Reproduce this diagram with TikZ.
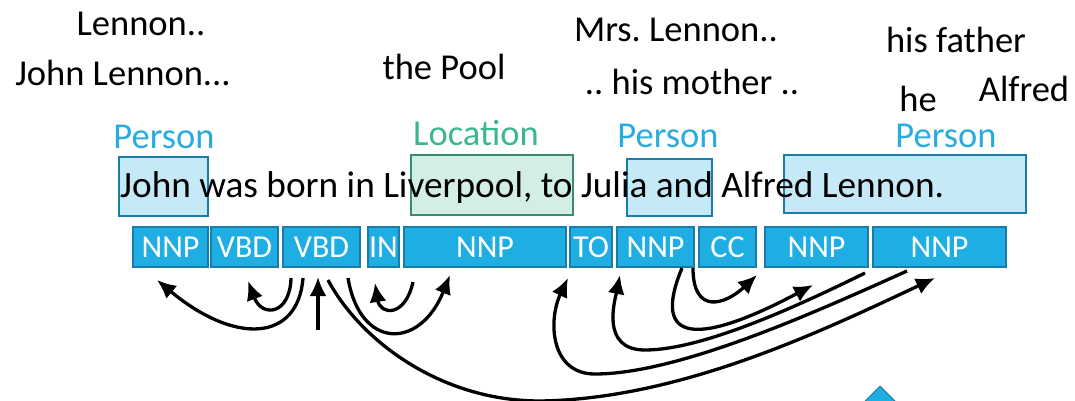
\documentclass[tikz,border=0pt]{standalone}
\usepackage{fontspec}
\setmainfont{Carlito}
\usetikzlibrary{arrows.meta,shapes.geometric}
\definecolor{tagfill}{HTML}{1FAEE3}
\definecolor{tagdraw}{HTML}{1A7DA8}
\definecolor{perfill}{HTML}{C6E9F7}
\definecolor{perdraw}{HTML}{1A7DA8}
\definecolor{locfill}{HTML}{D3EEE4}
\definecolor{locdraw}{HTML}{3A8C6E}
\definecolor{pertext}{HTML}{29ABE2}
\definecolor{loctext}{HTML}{3DB88D}
\frenchspacing
\begin{document}
\begin{tikzpicture}[x=1pt,y=-1pt,
  tag/.style={draw=tagdraw, fill=tagfill, line width=2.2pt, text=white, inner sep=0pt,
    minimum height=40pt, font=\fontsize{32}{38}\selectfont},
  ent/.style={line width=2.2pt, inner sep=0pt},
  perbox/.style={ent, draw=perdraw, fill=perfill},
  locbox/.style={ent, draw=locdraw, fill=locfill},
  word/.style={font=\fontsize{36.5}{44}\selectfont, inner sep=0pt, anchor=base},
  perlabel/.style={word, text=pertext},
  loclabel/.style={word, text=loctext},
  dep/.style={line width=3.3pt, -{Latex[length=19pt,width=17pt]}}]
\useasboundingbox (0,0) rectangle (1075,401);

% entity boxes
\node[perbox, minimum width=89pt, minimum height=59pt] (e1) at (163.5,186.5) {};
\node[locbox, minimum width=162pt, minimum height=60pt] (e2) at (492,185) {};
\node[perbox, minimum width=85pt, minimum height=57pt] (e3) at (669.5,187.5) {};
\node[perbox, minimum width=242pt, minimum height=58pt] (e4) at (905,184) {};

% sentence
\node[font=\fontsize{37.3}{44}\selectfont, inner sep=0pt, anchor=base west] (sent) at (120,197)
  {John was born in Liverpool, to Julia and Alfred Lennon.};

% entity labels
\node[perlabel] (l1) at (164,148) {Person};
\node[loclabel] (l2) at (476,146) {Location};
\node[perlabel] (l3) at (668,147) {Person};
\node[perlabel] (l4) at (946,147) {Person};

% coreference mentions
\node[word] (m1) at (141,36) {Lennon..};
\node[word] (m2) at (123,86) {John Lennon...};
\node[word] (m3) at (444,80) {the Pool};
\node[word] (m4) at (676,42) {Mrs. Lennon..};
\node[word] (m5) at (692,95) {.. his mother ..};
\node[word] (m6) at (956,53) {his father};
\node[word] (m7) at (918,112) {he};
\node[word] (m8) at (1024,102) {Alfred};

% POS tags
\node[tag, minimum width=75pt] (t1) at (170.5,247) {NNP};
\node[tag, minimum width=67pt] (t2) at (244.5,247) {VBD};
\node[tag, minimum width=77pt] (t3) at (321.5,247) {VBD};
\node[tag, minimum width=31pt] (t4) at (383.5,247) {IN};
\node[tag, minimum width=162pt] (t5) at (485,247) {NNP};
\node[tag, minimum width=42pt] (t6) at (591,247) {TO};
\node[tag, minimum width=77pt] (t7) at (655.5,247) {NNP};
\node[tag, minimum width=57pt] (t8) at (727.5,247) {CC};
\node[tag, minimum width=103pt] (t9) at (816.5,247) {NNP};
\node[tag, minimum width=133pt] (t10) at (939.5,247) {NNP};

% arc endpoints
\coordinate (a1s) at (303,278); \coordinate (a1e) at (157,280);
\coordinate (a2s) at (291,278); \coordinate (a2e) at (248,281);
\coordinate (root) at (318,330); \coordinate (a3e) at (318,277);
\coordinate (a5s) at (348,278); \coordinate (a5e) at (450,275);
\coordinate (a6s) at (413,282); \coordinate (a6e) at (375,283);
\coordinate (aAs) at (693,268); \coordinate (aAe) at (757,275);
\coordinate (aBs) at (682,268); \coordinate (aBe) at (813,285);
\coordinate (aCs) at (865,273); \coordinate (aCe) at (620,275);
\coordinate (aDs) at (907,271); \coordinate (aDe) at (568,278);
\coordinate (aEs) at (328,280); \coordinate (aEe) at (935,278);

% dependency arcs
\draw[dep] (a1s) .. controls (298,342) and (235,345) .. (a1e);
\draw[dep] (a2s) .. controls (290,315) and (262,318) .. (a2e);
\draw[dep] (root) -- (a3e);
\draw[dep] (a5s) .. controls (360,350) and (420,350) .. (a5e);
\draw[dep] (a6s) .. controls (405,318) and (380,315) .. (a6e);
\draw[dep] (aAs) .. controls (693,315) and (725,305) .. (aAe);
\draw[dep] (aBs) .. controls (650,345) and (700,345) .. (aBe);
\draw[dep] (aCs) .. controls (790,310) and (700,350) .. (645,350)
                 .. controls (600,350) and (615,300) .. (aCe);
\draw[dep] (aDs) .. controls (820,310) and (680,374) .. (595,374)
                 .. controls (550,374) and (548,320) .. (aDe);
\draw[dep] (aEs) .. controls (360,340) and (440,401) .. (540,401)
                 .. controls (680,399) and (820,332) .. (aEe);

% logo fragment
\node[diamond, fill=tagfill, draw=tagdraw, line width=1pt, minimum size=30pt, inner sep=0pt] (logo) at (880,401) {};
\end{tikzpicture}
\end{document}
